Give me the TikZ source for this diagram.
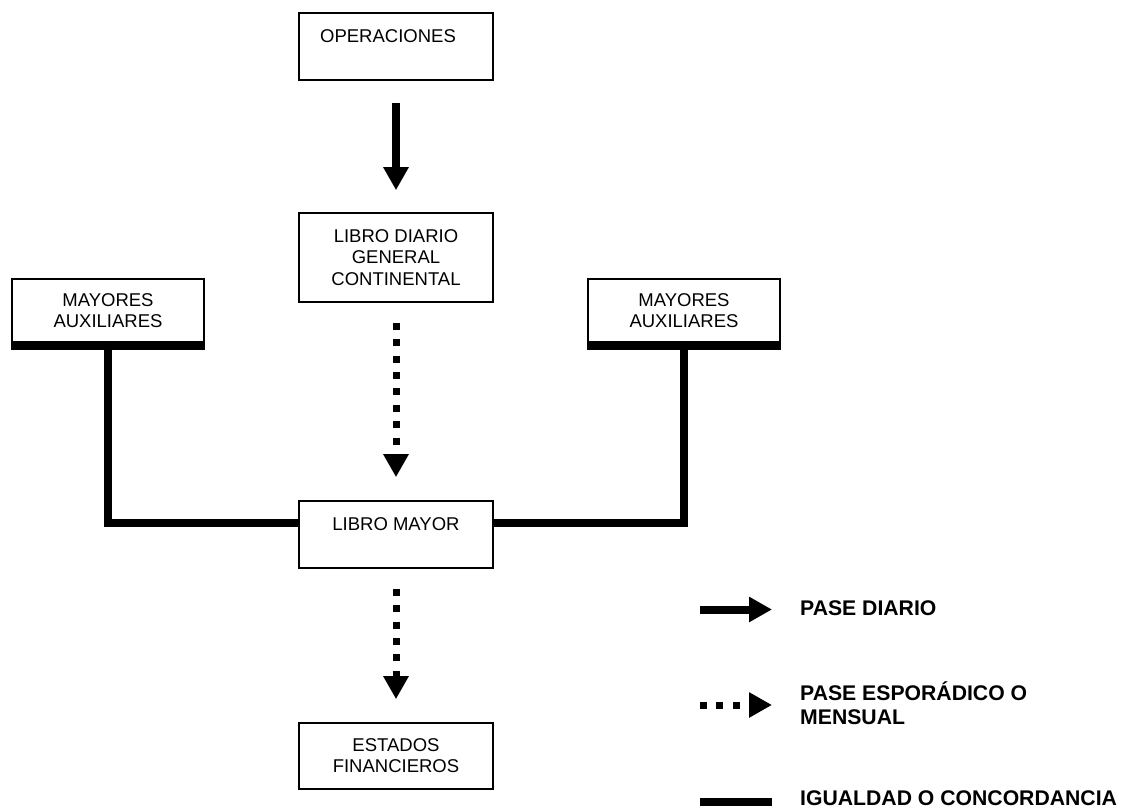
\documentclass[tikz,border=0pt]{standalone}
\usepackage{fontspec}
\setmainfont{Liberation Sans}
\usetikzlibrary{arrows.meta}
\begin{document}
\begin{tikzpicture}[x=1pt,y=-1pt,
  box/.style={draw, line width=1.6pt, minimum width=194pt, inner sep=0pt, align=center,
    font=\fontsize{18.5}{21.2}\selectfont},
  auxbox/.style={box, minimum width=192pt, minimum height=63pt},
  diario/.style={line width=8pt, -{Triangle[width=24pt,length=23pt]}},
  esporadico/.style={line width=7pt, dash pattern=on 7pt off 9.4pt, -{Triangle[width=24pt,length=23pt]}},
  igualdad/.style={line width=8pt},
  band/.style={line width=7pt},
  legend/.style={anchor=west, align=left, inner sep=0pt, font=\fontsize{21.2}{24}\selectfont\bfseries}
]
\useasboundingbox (0,0) rectangle (1138,809);

% main column
\node[box, minimum height=67pt] (ops) at (396,46.5) {OPERACIONES\hspace*{16pt}\\~};
\node[box, minimum height=89pt] (diario) at (396,257.5) {LIBRO DIARIO\\GENERAL\\CONTINENTAL};
\node[box, minimum height=67pt] (mayor) at (396,534.5) {LIBRO MAYOR\\~};
\node[box, minimum height=66pt] (estados) at (396,756) {ESTADOS\\FINANCIEROS};

% subsidiary ledgers
\node[auxbox] (auxL) at (108,310.5) {MAYORES\\AUXILIARES};
\node[auxbox] (auxR) at (684,310.5) {MAYORES\\AUXILIARES};
\draw[band] ([yshift=-3.5pt]auxL.south west) -- ([yshift=-3.5pt]auxL.south east);
\draw[band] ([yshift=-3.5pt]auxR.south west) -- ([yshift=-3.5pt]auxR.south east);

% flows
\draw[diario, shorten <=22pt, shorten >=22pt] (ops) -- (diario);
\draw[esporadico, shorten <=20pt, shorten >=23pt] (diario) -- (mayor);
\draw[esporadico, shorten <=20pt, shorten >=23pt] (mayor) -- (estados);
\draw[igualdad] (auxL.south) |- ([yshift=11.5pt]mayor.west);
\draw[igualdad] (auxR.south) |- ([yshift=11.5pt]mayor.east);

% legend
\coordinate (l1a) at (700,609.5);
\coordinate (l1b) at (772,609.5);
\coordinate (l2a) at (700,705);
\coordinate (l2b) at (772,705);
\coordinate (l3a) at (700,801.5);
\coordinate (l3b) at (772,801.5);
\draw[diario] (l1a) -- (l1b);
\draw[esporadico] (l2a) -- (l2b);
\draw[igualdad] (l3a) -- (l3b);
\node[legend] (t1) at (800,608) {PASE DIARIO};
\node[legend, anchor=base west] (t2) at (800,724.5) {PASE ESPORÁDICO O\\MENSUAL};
\node[legend] (t3) at (800,798.5) {IGUALDAD O CONCORDANCIA};
\end{tikzpicture}
\end{document}
